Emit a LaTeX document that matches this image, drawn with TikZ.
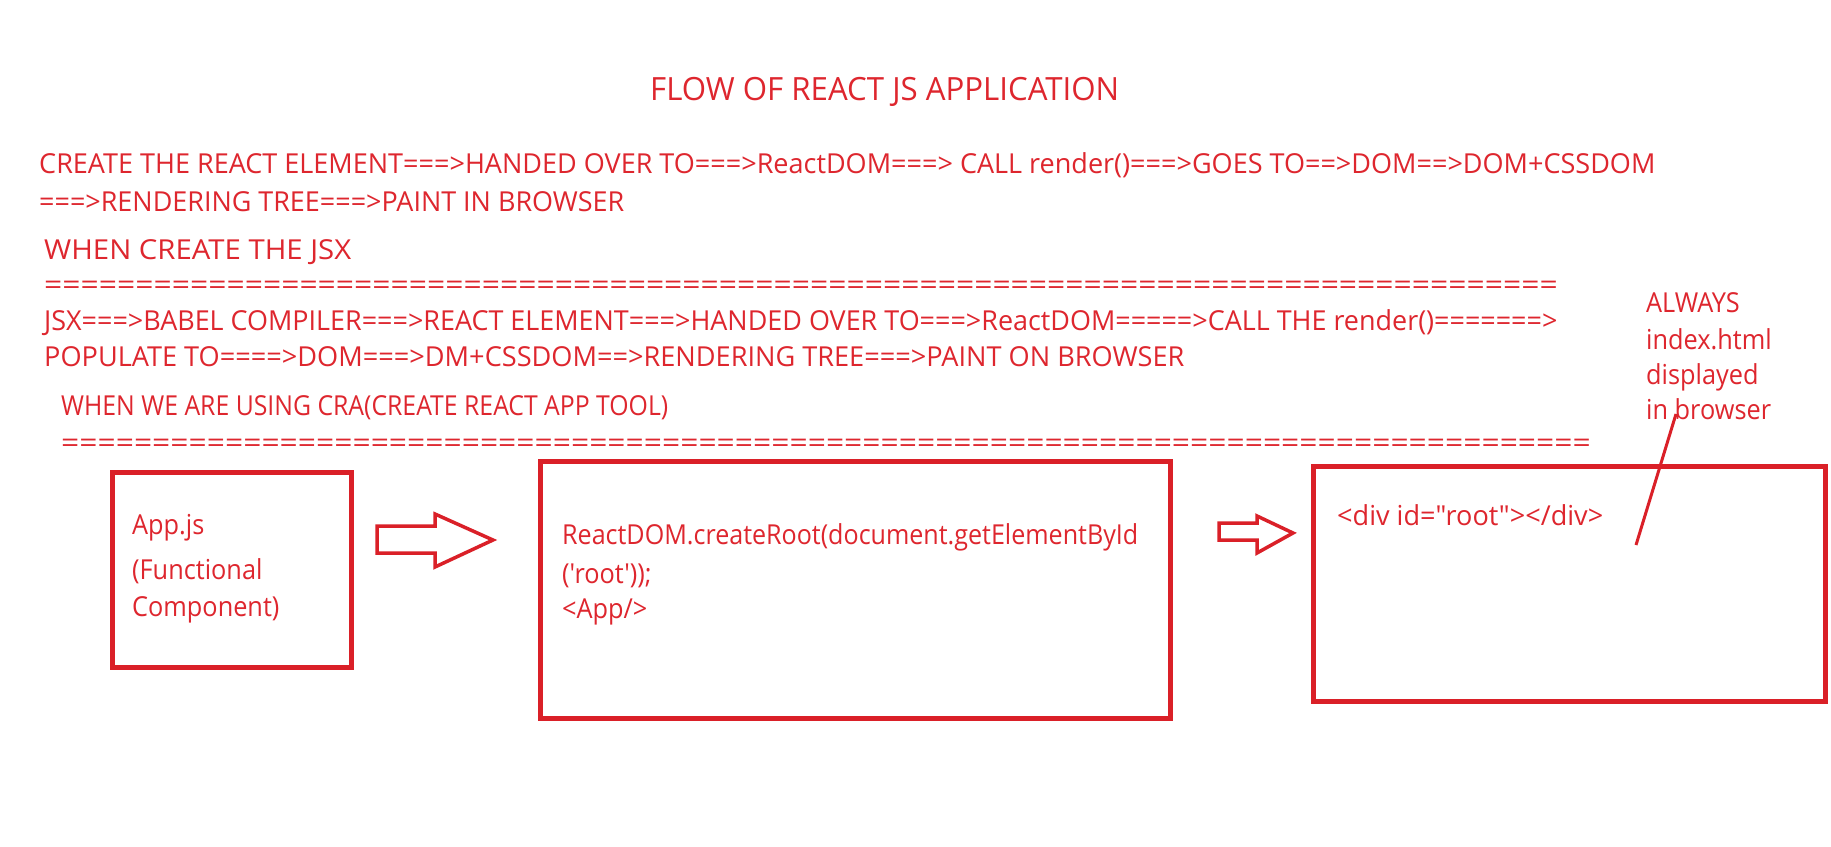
\documentclass[tikz,border=0pt]{standalone}
\usepackage{fontspec}
\setmainfont{Open Sans}[FakeStretch=0.92,Ligatures=TeXOff]
\definecolor{rred}{RGB}{222,38,46}
\definecolor{bred}{RGB}{218,32,40}
\newcommand{\fitto}[2]{\resizebox{#1}{\height}{#2}}
\begin{document}
\begin{tikzpicture}[x=1pt,y=-1pt,
  txt/.style={anchor=base west,inner sep=0pt,text=rred,font=\fontsize{27.5}{30}\selectfont},
  ttl/.style={txt,font=\fontsize{32}{36}\selectfont},
  box/.style={draw=bred,line width=4.5pt,anchor=north west,inner sep=0pt},
  barrow/.style={draw=bred,line width=3.5pt,line join=miter},
  note/.style={draw=bred,line width=3pt}]
\useasboundingbox[fill=white] (0,0) rectangle (1831,846);
% title and flow text
\node[ttl] (title) at (650,100) {\fitto{469pt}{FLOW OF REACT JS APPLICATION}};
\node[txt] (l1) at (39,173) {\fitto{1616pt}{CREATE THE REACT ELEMENT===>HANDED OVER TO===>ReactDOM===> CALL render()===>GOES TO==>DOM==>DOM+CSSDOM}};
\node[txt] (l2) at (39,211) {\fitto{585pt}{===>RENDERING TREE===>PAINT IN BROWSER}};
\node[txt] (jsxh) at (44,259) {\fitto{307pt}{WHEN CREATE THE JSX}};
\node[txt] (eq1) at (44,294) {\fitto{1513pt}{===================================================================================}};
\node[txt] (jsx1) at (44,330) {\fitto{1513pt}{JSX===>BABEL COMPILER===>REACT ELEMENT===>HANDED OVER TO===>ReactDOM=====>CALL THE render()=======>}};
\node[txt] (jsx2) at (44,366) {\fitto{1140pt}{POPULATE TO====>DOM===>DM+CSSDOM==>RENDERING TREE===>PAINT ON BROWSER}};
\node[txt] (crah) at (61,415) {\fitto{607pt}{WHEN WE ARE USING CRA(CREATE REACT APP TOOL)}};
\node[txt] (eq2) at (61,452) {\fitto{1529pt}{====================================================================================}};
% note
\node[txt] (n1) at (1646,312) {ALWAYS};
\node[txt] (n2) at (1646,349) {index.html};
\node[txt] (n3) at (1646,384) {displayed};
\node[txt] (n4) at (1646,419) {in browser};
% boxes
\node[box,minimum width=239pt,minimum height=195pt] (b1) at (110,470) {};
\node[box,minimum width=630pt,minimum height=257pt] (b2) at (538,459) {};
\node[box,minimum width=512pt,minimum height=235pt] (b3) at (1311,464) {};
\node[txt] (app) at (132,534) {App.js};
\node[txt] (fc1) at (132,579) {(Functional};
\node[txt] (fc2) at (132,616) {Component)};
\node[txt] (rd1) at (562,544) {\fitto{576pt}{ReactDOM.createRoot(document.getElementById}};
\node[txt] (rd2) at (562,583) {('root'));};
\node[txt] (rd3) at (562,618) {<App/>};
\node[txt] (div) at (1337,525) {\fitto{266pt}{<div id="root"></div>}};
% block arrows
\draw[barrow] (377,526) -- (435,526) -- (435,514) -- (493,540) -- (435,567) -- (435,553) -- (377,553) -- cycle;
\draw[barrow] (1219,523) -- (1257,523) -- (1257,516) -- (1293,533) -- (1257,553) -- (1257,540) -- (1219,540) -- cycle;
% annotation line
\coordinate (lb) at (1636,545);
\coordinate (lt) at (1676,414);
\draw[note] (lb) -- (lt);
\end{tikzpicture}
\end{document}
